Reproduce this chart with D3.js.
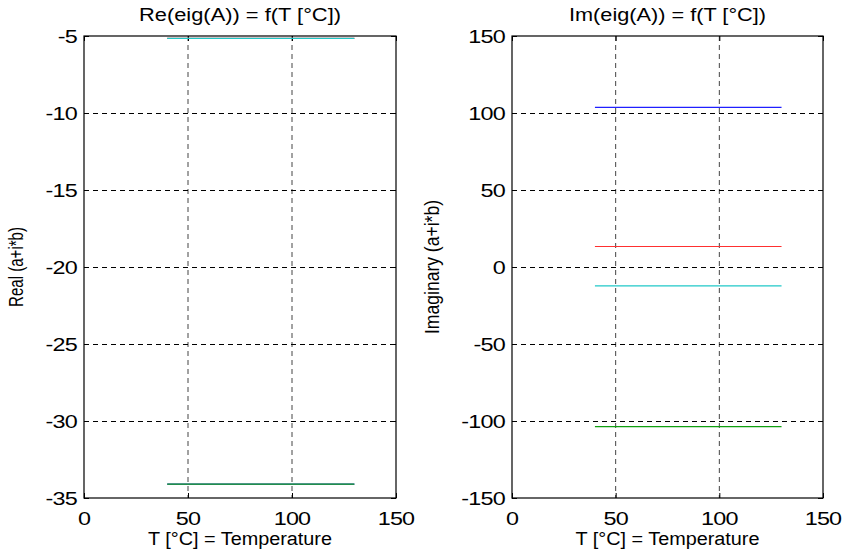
<!DOCTYPE html>
<html>
<head>
<meta charset="utf-8">
<script src="https://cdn.jsdelivr.net/npm/d3@7"></script>
<style>
  body { margin: 0; background: #fff; }
  text { font-family: "Liberation Sans", Arial, sans-serif; fill: #000; }
</style>
</head>
<body>
<svg id="chart" width="845" height="550"></svg>
<script>
// temperature points (°C)
const temps = [40, 130]
// eigenvalue series, MATLAB default colour order
const seriesNames = ['lambda1', 'lambda2', 'lambda3', 'lambda4']
const seriesColors = ['#2020ff', '#10a010', '#ff3030', '#20c8c8']
const realParts = [
	[-34.1, -34.1],
	[-34.1, -34.1],
	[-5.16, -5.16],
	[-5.16, -5.16]
]
const imagParts = [
	[103.7, 103.7],
	[-103.7, -103.7],
	[13.3, 13.3],
	[-12.2, -12.2]
]
const xTicks = [0, 50, 100, 150]
const reTicks = [-35, -30, -25, -20, -15, -10, -5]
const imTicks = [-150, -100, -50, 0, 50, 100, 150]

const svg = d3.select('#chart')
const plotTop = 36, plotBottom = 498
const fs = 18, stretch = 1.3

function panel(left, right, yDomain, yTicks, series, title, titleLen) {
	let x = d3.scaleLinear().domain([0, 150]).range([left, right])
	let y = d3.scaleLinear().domain(yDomain).range([plotBottom, plotTop])
	let g = svg.append('g')

	// grid
	g.append('g').selectAll('line').data(xTicks.slice(1, -1)).join('line')
		.attr('x1', d => x(d)).attr('x2', d => x(d))
		.attr('y1', plotTop).attr('y2', plotBottom)
		.attr('stroke', '#444').attr('stroke-dasharray', '5,4')
	g.append('g').selectAll('line').data(yTicks.slice(1, -1)).join('line')
		.attr('y1', d => y(d) + 0.5).attr('y2', d => y(d) + 0.5)
		.attr('x1', left).attr('x2', right)
		.attr('stroke', '#000').attr('stroke-dasharray', '5,4')

	// axes: ticks inside on all sides
	let axL = d3.axisRight(y).tickValues(yTicks).tickSize(5).tickFormat('')
	let axR = d3.axisLeft(y).tickValues(yTicks).tickSize(5).tickFormat('')
	let axB = d3.axisTop(x).tickValues(xTicks).tickSize(5).tickFormat('')
	let axT = d3.axisBottom(x).tickValues(xTicks).tickSize(5).tickFormat('')
	g.append('g').attr('transform', `translate(${left},0)`).call(axL)
	g.append('g').attr('transform', `translate(${right},0)`).call(axR)
	g.append('g').attr('transform', `translate(0,${plotBottom})`).call(axB)
	g.append('g').attr('transform', `translate(0,${plotTop})`).call(axT)
	g.selectAll('.domain').remove()
	g.selectAll('.tick line').attr('stroke', '#000')

	g.append('rect')
		.attr('x', left).attr('y', plotTop)
		.attr('width', right - left).attr('height', plotBottom - plotTop)
		.attr('fill', 'none').attr('stroke', '#000').attr('stroke-width', 1.2)

	// series
	let line = d3.line().x((d, i) => x(temps[i])).y(d => y(d))
	g.append('g').selectAll('path').data(series).join('path')
		.attr('d', d => line(d))
		.attr('fill', 'none')
		.attr('stroke', (d, i) => seriesColors[i])
		.attr('stroke-width', 1.2)

	// tick labels (wide, MATLAB-like Helvetica)
	g.append('g').selectAll('text').data(yTicks).join('text')
		.attr('transform', d => `translate(${left - 7},${y(d) + 6.5}) scale(${stretch},1)`)
		.attr('text-anchor', 'end').attr('font-size', fs).attr('letter-spacing', -0.6)
		.text(d => d)
	g.append('g').selectAll('text').data(xTicks).join('text')
		.attr('transform', d => `translate(${x(d)},${plotBottom + 27}) scale(${stretch},1)`)
		.attr('text-anchor', 'middle').attr('font-size', fs).attr('letter-spacing', -0.6)
		.text(d => d)

	g.append('text')
		.attr('x', (left + right) / 2).attr('y', 21)
		.attr('text-anchor', 'middle').attr('font-size', fs)
		.attr('textLength', titleLen).attr('lengthAdjust', 'spacingAndGlyphs')
		.text(title)
	g.append('text')
		.attr('x', (left + right) / 2).attr('y', 545)
		.attr('text-anchor', 'middle').attr('font-size', fs)
		.attr('textLength', 184).attr('lengthAdjust', 'spacingAndGlyphs')
		.text('T [°C] = Temperature')
	return g
}

let g1 = panel(84, 396, [-35, -5], reTicks, realParts, 'Re(eig(A)) = f(T [°C])', 202)
g1.append('text')
	.attr('transform', 'translate(23,267) rotate(-90)')
	.attr('text-anchor', 'middle').attr('font-size', 20)
	.attr('textLength', 80).attr('lengthAdjust', 'spacingAndGlyphs')
	.text('Real (a+i*b)')

let g2 = panel(512, 823, [-150, 150], imTicks, imagParts, 'Im(eig(A)) = f(T [°C])', 197)
g2.append('text')
	.attr('transform', 'translate(439,267) rotate(-90)')
	.attr('text-anchor', 'middle').attr('font-size', 20)
	.attr('textLength', 134).attr('lengthAdjust', 'spacingAndGlyphs')
	.text('Imaginary (a+i*b)')
</script>
</body>
</html>
